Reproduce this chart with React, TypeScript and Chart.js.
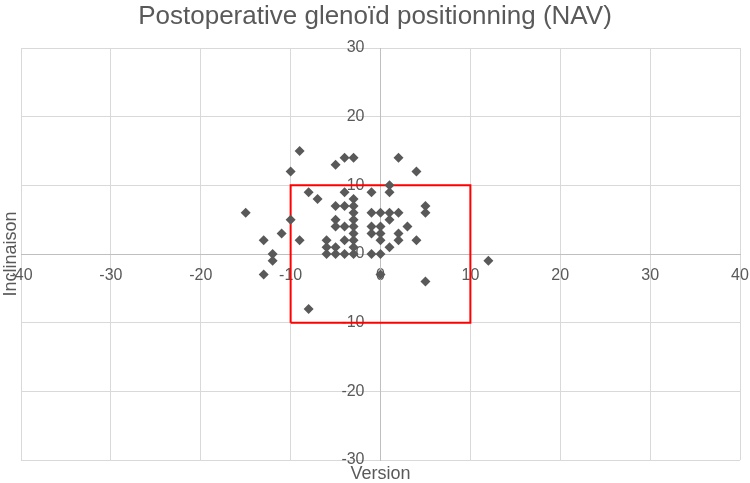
import React, { useEffect, useRef } from "react";
import { Chart, registerables } from "chart.js";

Chart.register(...registerables);

const chartTitle = "Postoperative glenoïd positionning (NAV)";
const xAxisTitle = "Version";
const yAxisTitle = "Inclinaison";

const versionValues = [
  -9, -10, -5, -4, -3, 2, 4, -15, -10, -8, -7, -11, -13, -9, -12, -12, -13, -8, 12, 5, 0,
  1, 1, 5, 5, 3, 2, 2, 4, 1, 1, 2, 1, 0, -1, -1, -4, -3, -5, -4, -3, -3, -5, -3, -5, -3,
  -1, 0, -1, 0, -3, -3, 0, -3, -6, -6, -5, -6, -5, -4, -3, -1, 0, -4, -4,
];
const inclinationValues = [
  15, 12, 13, 14, 14, 14, 12, 6, 5, 9, 8, 3, 2, 2, 0, -1, -3, -8, -1, -4, -3,
  10, 9, 7, 6, 4, 3, 2, 2, 1, 5, 6, 6, 6, 6, 9, 9, 8, 7, 7, 7, 6, 5, 5, 4, 4,
  4, 4, 3, 3, 3, 2, 2, 1, 2, 1, 1, 0, 0, 0, 0, 0, 0, 2, 4,
];

const targetBoxX = [-10, 10, 10, -10, -10];
const targetBoxY = [-10, -10, 10, 10, -10];

const xMin = -40;
const xMax = 40;
const yMin = -30;
const yMax = 30;
const tickStep = 10;

const textColor = "#595959";
const gridColor = "#d9d9d9";
const fontFamily = "'Liberation Sans', Arial, sans-serif";

export default function App() {
  const canvasRef = useRef<HTMLCanvasElement | null>(null);

  useEffect(() => {
    if (!canvasRef.current) return;
    const points = versionValues.map((v, i) => ({ x: v, y: inclinationValues[i] }));
    const box = targetBoxX.map((v, i) => ({ x: v, y: targetBoxY[i] }));

    const textPlugin = {
      id: "textPlugin",
      afterDraw(chart: any) {
        const ctx = chart.ctx;
        const area = chart.chartArea;
        const xs = chart.scales.x;
        ctx.save();
        ctx.fillStyle = textColor;
        ctx.textAlign = "center";
        ctx.textBaseline = "middle";
        ctx.font = `26px ${fontFamily}`;
        ctx.fillText(chartTitle, 375, 17);
        ctx.font = `18px ${fontFamily}`;
        ctx.fillText(xAxisTitle, xs.getPixelForValue(0), 474);
        ctx.translate(11, (area.top + area.bottom) / 2);
        ctx.rotate(-Math.PI / 2);
        ctx.fillText(yAxisTitle, 0, 0);
        ctx.restore();
      },
    };

    const chart = new Chart(canvasRef.current, {
      type: "scatter",
      data: {
        datasets: [
          {
            label: "NAV",
            data: points,
            pointStyle: "rectRot",
            pointRadius: 5,
            pointHoverRadius: 5,
            pointBackgroundColor: "#595959",
            pointBorderColor: "#595959",
            pointBorderWidth: 0,
            showLine: false,
          },
          {
            label: "Target",
            data: box,
            showLine: true,
            borderColor: "#ff0000",
            borderWidth: 2,
            pointRadius: 0,
            fill: false,
            tension: 0,
          },
        ],
      },
      options: {
        responsive: false,
        animation: false,
        layout: { padding: { left: 21, right: 10, top: 48, bottom: 23 } },
        plugins: {
          legend: { display: false },
          title: { display: false },
          tooltip: { enabled: false },
        },
        scales: {
          x: {
            type: "linear",
            position: { y: 0 } as any,
            min: xMin,
            max: xMax,
            ticks: {
              stepSize: tickStep,
              autoSkip: false,
              maxRotation: 0,
              color: textColor,
              padding: 0,
              font: { family: fontFamily, size: 16 },
            },
            grid: { color: gridColor, drawTicks: true, tickLength: 12, tickColor: "rgba(0,0,0,0)" },
            border: { color: "#bfbfbf", width: 1 },
          },
          y: {
            type: "linear",
            position: { x: 0 } as any,
            min: yMin,
            max: yMax,
            ticks: {
              stepSize: tickStep,
              autoSkip: false,
              color: textColor,
              padding: 0,
              font: { family: fontFamily, size: 16 },
              callback: (value: any) => `${value}\u2003`,
            },
            grid: { color: gridColor, drawTicks: false },
            border: { color: "#bfbfbf", width: 1 },
          },
        },
      },
      plugins: [textPlugin],
    });
    return () => chart.destroy();
  }, []);

  return (
    <div style={{ position: "absolute", left: 0, top: 0, width: 750, height: 483, background: "#fff" }}>
      <canvas ref={canvasRef} width={750} height={483} />
    </div>
  );
}
